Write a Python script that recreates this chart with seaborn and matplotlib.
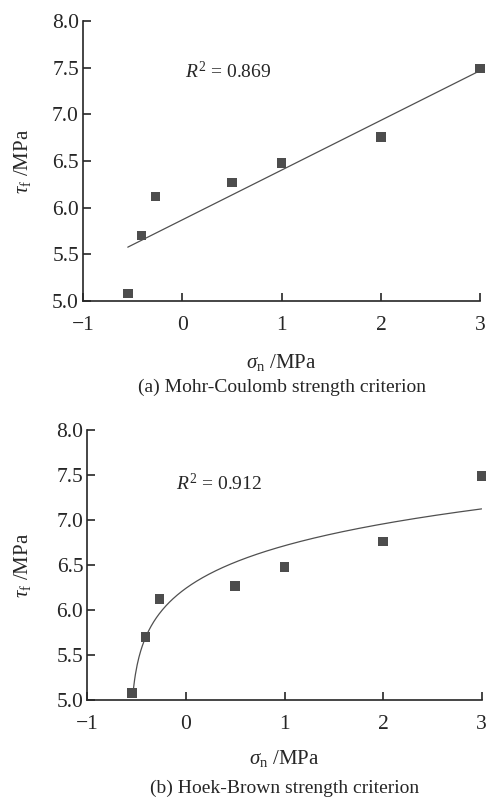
import numpy as np
import pandas as pd
import seaborn as sns
import matplotlib.pyplot as plt

sigma_n = [-0.55, -0.41, -0.27, 0.5, 1.0, 2.0, 3.0]
tau_f = [5.08, 5.70, 6.12, 6.27, 6.48, 6.76, 7.49]

r2_mc = 0.869
r2_hb = 0.912

# Hoek-Brown fitted curve tau = a * (sigma - t) ** b (parameters)
hb_a = 6.50
hb_b = 0.072
hb_t = -0.57

x_ticks = [-1, 0, 1, 2, 3]
y_ticks = [5.0, 5.5, 6.0, 6.5, 7.0, 7.5, 8.0]

sns.set_style("ticks")
plt.rcParams["font.family"] = ["Liberation Serif", "DejaVu Serif"]
plt.rcParams["mathtext.fontset"] = "custom"
plt.rcParams["mathtext.rm"] = "Liberation Serif"
plt.rcParams["mathtext.it"] = "Liberation Serif:italic"

df = pd.DataFrame({"sigma": sigma_n, "tau": tau_f})
hb_x = np.linspace(-0.54, 3.0, 400)
hb_df = pd.DataFrame({"sigma": hb_x, "tau": hb_a * (hb_x - hb_t) ** hb_b})

fig = plt.figure(figsize=(4.86, 8.02), dpi=100)
ax1 = fig.add_axes([0.171, 0.6247, 0.817, 0.349])
ax2 = fig.add_axes([0.180, 0.1272, 0.811, 0.3366])

mark = dict(marker="s", s=48, color="#4d4d4d", edgecolor="none", zorder=3, clip_on=False)
line_c = "#505050"

sns.regplot(data=df, x="sigma", y="tau", ax=ax1, scatter=False, ci=None,
            line_kws=dict(color=line_c, lw=0.9))
sns.scatterplot(data=df, x="sigma", y="tau", ax=ax1, **mark)

sns.lineplot(data=hb_df, x="sigma", y="tau", ax=ax2, color=line_c, lw=0.9)
sns.scatterplot(data=df, x="sigma", y="tau", ax=ax2, **mark)

ax1.text(0.03, 7.46, rf"$R^2$ = {r2_mc}", fontsize=14, va="center")
ax2.text(-0.1, 7.41, rf"$R^2$ = {r2_hb}", fontsize=14, va="center")

captions = ["(a) Mohr-Coulomb strength criterion", "(b) Hoek-Brown strength criterion"]
xlab_y = [-0.182, -0.178]
ylab_x = [-0.126, -0.139]
cap_y = [-0.307, -0.326]
for i, (ax, cap) in enumerate(zip([ax1, ax2], captions)):
    ax.set_xlim(-1, 3)
    ax.set_ylim(5.0, 8.0)
    ax.set_xticks(x_ticks)
    ax.set_yticks(y_ticks)
    ax.set_yticklabels([f"{v:.1f}" for v in y_ticks])
    ax.tick_params(direction="in", length=6, width=1.2, labelsize=15.5)
    ax.tick_params(axis="x", pad=11)
    ax.tick_params(axis="y", pad=3)
    for sp in ["top", "right"]:
        ax.spines[sp].set_visible(False)
    for sp in ["left", "bottom"]:
        ax.spines[sp].set_linewidth(1.2)
    ax.set_xlabel(r"$\sigma_\mathrm{n}$ /MPa", fontsize=15)
    ax.set_ylabel(r"$\tau_\mathrm{f}$ /MPa", fontsize=15)
    ax.xaxis.set_label_coords(0.5, xlab_y[i])
    ax.yaxis.set_label_coords(ylab_x[i], 0.5)
    ax.text(0.5, cap_y[i], cap, transform=ax.transAxes, ha="center", va="center", fontsize=14)

plt.savefig("out.png", dpi=100)
